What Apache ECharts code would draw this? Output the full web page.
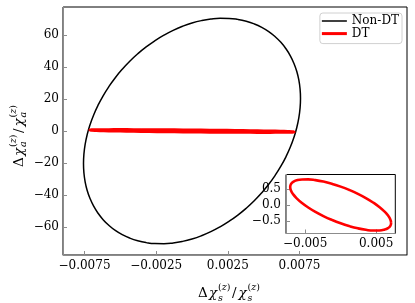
<!DOCTYPE html>
<html>
<head>
<meta charset="utf-8">
<script src="https://cdn.jsdelivr.net/npm/echarts@6/dist/echarts.min.js"></script>
<style>
html,body{margin:0;padding:0;background:#fff;}
#chart{width:415px;height:303px;}
</style>
</head>
<body>
<div id="chart"></div>
<script>
// Non-DT ellipse points
const nonDtX = [0.00757,0.007541,0.007455,0.007312,0.007113,0.006861,0.006556,0.006201,0.005799,0.005353,0.004866,0.004342,0.003785,0.003199,0.002589,0.001959,0.001315,0.000660,0,
  -0.000660,-0.001315,-0.001959,-0.002589,-0.003199,-0.003785,-0.004342,-0.004866,-0.005353,-0.005799,-0.006201,-0.006556,-0.006861,-0.007113,-0.007312,-0.007455,-0.007541,-0.00757,
  -0.007541,-0.007455,-0.007312,-0.007113,-0.006861,-0.006556,-0.006201,-0.005799,-0.005353,-0.004866,-0.004342,-0.003785,-0.003199,-0.002589,-0.001959,-0.001315,-0.000660,0,
  0.000660,0.001315,0.001959,0.002589,0.003199,0.003785,0.004342,0.004866,0.005353,0.005799,0.006201,0.006556,0.006861,0.007113,0.007312,0.007455,0.007541,0.00757,0.007541];
const nonDtY = [20.32,26.11,31.70,37.05,42.11,46.86,51.25,55.25,58.82,61.96,64.62,66.78,68.44,69.58,70.19,70.27,69.81,68.81,67.30,
  65.27,62.75,59.75,56.29,52.41,48.12,43.47,38.49,33.22,27.69,21.96,16.05,10.03,3.92,-2.21,-8.32,-14.38,-20.32,
  -26.11,-31.70,-37.05,-42.11,-46.86,-51.25,-55.25,-58.82,-61.96,-64.62,-66.78,-68.44,-69.58,-70.19,-70.27,-69.81,-68.81,-67.30,
  -65.27,-62.75,-59.75,-56.29,-52.41,-48.12,-43.47,-38.49,-33.22,-27.69,-21.96,-16.05,-10.03,-3.92,2.21,8.32,14.38,20.32,26.11];
// DT ellipse points
const dtX = [0.00711,0.007002,0.006681,0.006158,0.005447,0.004570,0.003555,0.002432,0.001235,0,-0.001235,-0.002432,-0.003555,-0.004570,-0.005447,-0.006158,-0.006681,-0.007002,-0.00711,-0.007002,-0.006681,-0.006158,-0.005447,-0.004570,-0.003555,-0.002432,-0.001235,0,0.001235,0.002432,0.003555,0.004570,0.005447,0.006158,0.006681,0.007002,0.00711,0.007002];
const dtY = [-0.560,-0.452,-0.330,-0.199,-0.061,0.078,0.215,0.346,0.466,0.572,0.660,0.729,0.775,0.798,0.796,0.771,0.721,0.650,0.560,0.452,0.330,0.199,0.061,-0.078,-0.215,-0.346,-0.466,-0.572,-0.660,-0.729,-0.775,-0.798,-0.796,-0.771,-0.721,-0.650,-0.560,-0.452];
const seriesNames = ['Non-DT','DT'];
const mainXTicks = [-0.0075,-0.0025,0.0025,0.0075];
const mainYTicks = [-60,-40,-20,0,20,40,60];
const insetXTicks = [-0.005,0.005];
const insetYTicks = [-0.5,0,0.5];

const pairs = (xs, ys) => xs.map((x, i) => [x, ys[i]]);
const FONT = 'DejaVu Serif';
const GRAY = '#8c8c8c';
const fmt = d => v => (v < 0 ? '\u2212' : '') + Math.abs(v).toFixed(d);

function axis(gridIndex, min, max, ticks, digits, margin, fontSize) {
  return {
    type: 'value', gridIndex, min, max, scale: false,
    splitLine: {show: false},
    axisLine: {show: true, onZero: false, lineStyle: {color: GRAY, width: 1}},
    axisTick: {show: true, inside: true, length: 4, customValues: ticks, lineStyle: {color: GRAY, width: 1}},
    axisLabel: {show: true, customValues: ticks, margin, formatter: fmt(digits),
      color: '#000', fontFamily: FONT, fontSize}
  };
}

// math label parts: Δχ^(z)_s / χ^(z)_s
function mathLabel(sub, ox, oy, rot) {
  const big = 13.5, small = 9.5;
  const mk = (text, x, y, size, italic, rich) => ({
    type: 'text', x, y,
    style: {text, fontFamily: FONT, fontSize: size, fontStyle: italic ? 'italic' : 'normal',
      fill: '#000', align: 'left', verticalAlign: 'middle', rich: rich}
  });
  const richZ = {i: {fontFamily: FONT, fontSize: small, fontStyle: 'italic', fill: '#000'}};
  return {
    type: 'group', x: ox, y: oy, rotation: rot,
    children: [
      mk('\u0394', 0, 0, big, false),
      mk('\u03c7', 11, 0, big, true),
      mk('({i|z})', 20, -5.5, small, false, richZ),
      mk(sub, 20, 5, small, true),
      mk('/', 34, 0, big, false),
      mk('\u03c7', 40.5, 0, big, true),
      mk('({i|z})', 49.5, -5.5, small, false, richZ),
      mk(sub, 49.5, 5, small, true)
    ]
  };
}

const chart = echarts.init(document.getElementById('chart'), null, {renderer: 'canvas'});
chart.setOption({
  animation: false,
  backgroundColor: '#fff',
  grid: [
    {left: 63, top: 7, width: 344, height: 248, show: true, borderColor: '#000', borderWidth: 1, backgroundColor: 'transparent'},
    {left: 286, top: 174.5, width: 109.3, height: 59, show: true, borderColor: '#000', borderWidth: 1, backgroundColor: '#fff'}
  ],
  xAxis: [
    axis(0, -0.009, 0.015, mainXTicks, 4, 5, 12),
    axis(1, -0.0077, 0.0077, insetXTicks, 3, 4, 12)
  ],
  yAxis: [
    axis(0, -77.3, 77.3, mainYTicks, 0, 4, 12),
    axis(1, -0.89, 0.95, insetYTicks, 1, 5, 12)
  ],
  legend: {
    right: 13, top: 13, orient: 'vertical',
    itemWidth: 25, itemHeight: 12, itemGap: 0.6,
    padding: [2, 3, 4, 2],
    backgroundColor: '#fff', borderColor: '#d0d0d0', borderWidth: 1, borderRadius: 3,
    textStyle: {fontFamily: FONT, fontSize: 12, color: '#000', lineHeight: 12},
    data: [
      {name: seriesNames[0], icon: 'path://M0,0H25V1.5H0Z', itemStyle: {color: '#000'}},
      {name: seriesNames[1], icon: 'path://M0,0H25V3H0Z', itemStyle: {color: '#ff0000'}}
    ]
  },
  graphic: [
    mathLabel('s', 198, 293.5, 0),
    mathLabel('a', 19, 167, Math.PI / 2)
  ],
  series: [
    {name: seriesNames[0], type: 'line', xAxisIndex: 0, yAxisIndex: 0, data: pairs(nonDtX, nonDtY),
      showSymbol: false, smooth: true, lineStyle: {color: '#000', width: 1.5}, itemStyle: {color: '#000'}, z: 2},
    {name: seriesNames[1], type: 'line', xAxisIndex: 0, yAxisIndex: 0, data: pairs(dtX, dtY),
      showSymbol: false, smooth: true, lineStyle: {color: '#ff0000', width: 3.2}, itemStyle: {color: '#ff0000'}, z: 3},
    {name: seriesNames[1], type: 'line', xAxisIndex: 1, yAxisIndex: 1, data: pairs(dtX, dtY),
      showSymbol: false, smooth: true, lineStyle: {color: '#ff0000', width: 2.6}, itemStyle: {color: '#ff0000'}, z: 4}
  ]
});
</script>
</body>
</html>
